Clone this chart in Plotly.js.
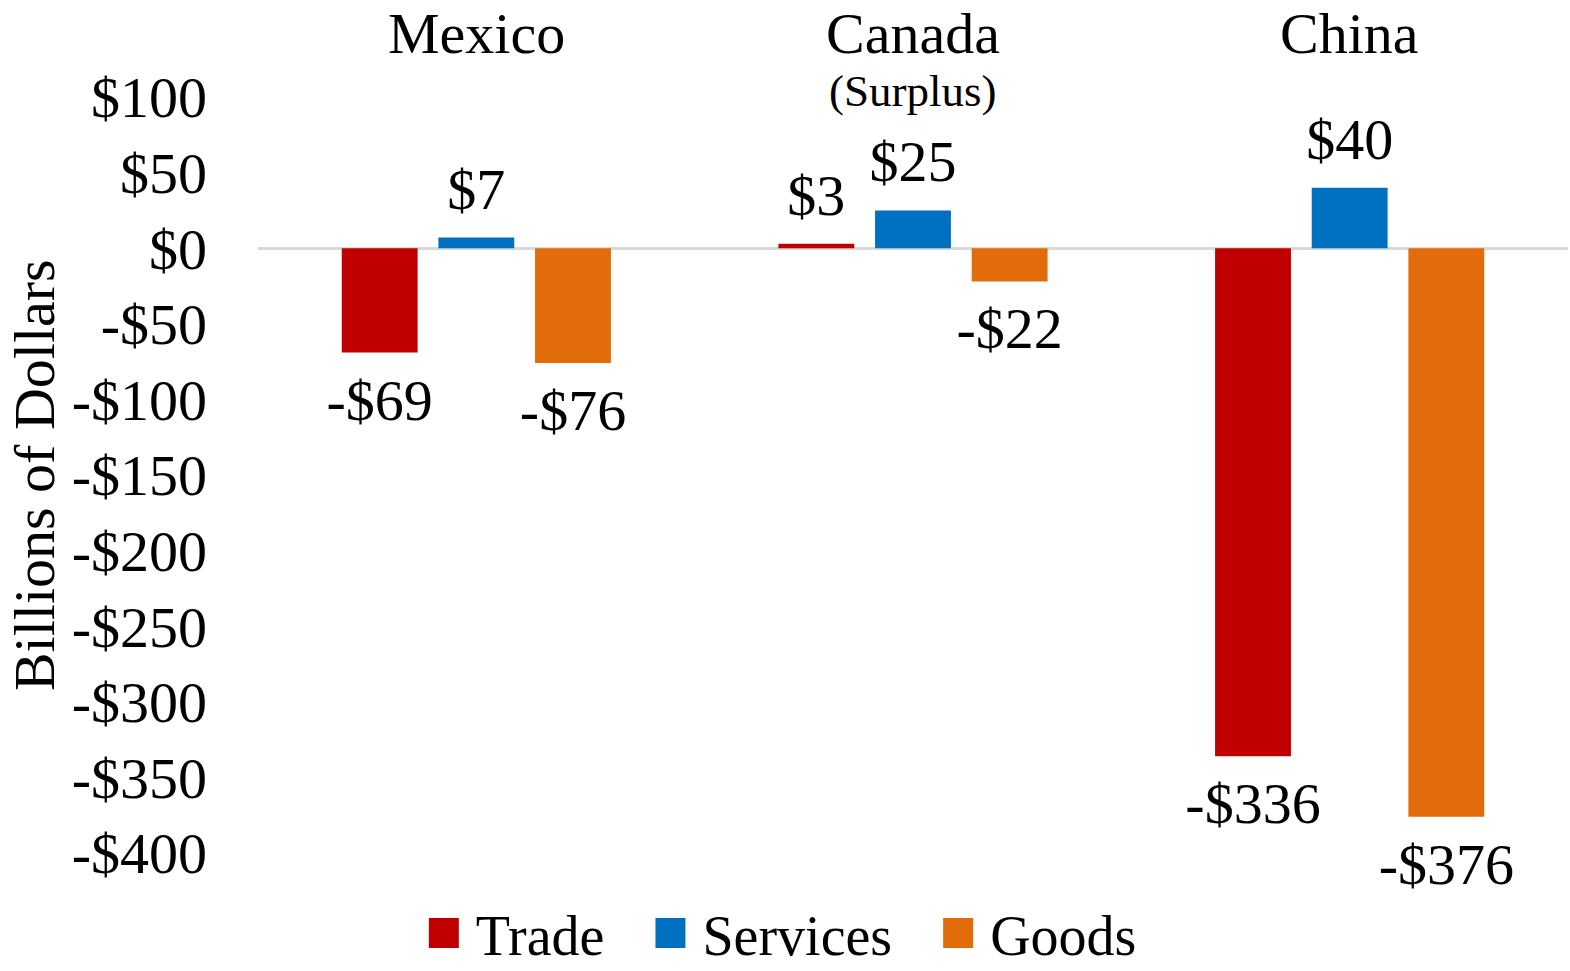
<!DOCTYPE html>
<html>
<head>
<meta charset="utf-8">
<script src="https://cdn.plot.ly/plotly-3.0.1.min.js"></script>
<style>
  html, body { margin: 0; padding: 0; background: #fff; }
  #chart { width: 1570px; height: 971px; }
</style>
</head>
<body>
<div id="chart"></div>
<script>
// countries along the top, with a note under Canada
const countries = ["Mexico", "Canada", "China"];
const notes = ["", "(Surplus)", ""];

// balances, billions of dollars
const trade = [-69, 3, -336];
const services = [7, 25, 40];
const goods = [-76, -22, -376];

const tickVals = [100, 50, 0, -50, -100, -150, -200, -250, -300, -350, -400];
const tickText = ["$100", "$50", "$0", "-$50", "-$100", "-$150", "-$200", "-$250", "-$300", "-$350", "-$400"];

const serif = "Liberation Serif, Times New Roman, serif";

function money(v) {
    return (v < 0 ? "-" : "") + "$" + Math.abs(v);
}

function barTrace(name, values, color) {
    return {
        type: "bar",
        name: name,
        x: countries,
        y: values,
        marker: { color: color },
        text: values.map(money),
        textposition: "outside",
        constraintext: "none",
        cliponaxis: false,
        textfont: { family: serif, size: 58, color: "#000" },
        hoverinfo: "skip"
    };
}

var data = [
    barTrace("Trade", trade, "#C00000"),
    barTrace("Services", services, "#0070C0"),
    barTrace("Goods", goods, "#E36C0A")
];

var annotations = [];
for (let i = 0; i < countries.length; i++) {
    annotations.push({
        x: countries[i], xref: "x",
        y: 1.084, yref: "paper",
        text: countries[i], showarrow: false,
        xanchor: "center", yanchor: "middle",
        font: { family: serif, size: 58, color: "#000" }
    });
    if (notes[i]) {
        annotations.push({
            x: countries[i], xref: "x",
            y: 1.008, yref: "paper",
            text: notes[i], showarrow: false,
            xanchor: "center", yanchor: "middle",
            font: { family: serif, size: 45, color: "#000" }
        });
    }
}

// y axis title, set on its own so it sits at the far left like the original
annotations.push({
    x: -0.1709, xref: "paper",
    y: 0.5, yref: "paper",
    text: "Billions of Dollars", textangle: -90, showarrow: false,
    xanchor: "center", yanchor: "middle",
    font: { family: serif, size: 58, color: "#000" }
});

var layout = {
    width: 1570,
    height: 971,
    margin: { l: 258, r: 2, t: 97, b: 118, autoexpand: false },
    paper_bgcolor: "#fff",
    plot_bgcolor: "#fff",
    font: { family: serif, size: 58, color: "#000" },
    barmode: "group",
    bargap: 0.336,
    bargroupgap: 0.215,
    showlegend: true,
    legend: {
        orientation: "h",
        x: 0.0953, xanchor: "left",
        y: -0.106, yanchor: "middle",
        font: { family: serif, size: 56, color: "#000" },
        itemwidth: 83
    },
    xaxis: {
        showticklabels: false,
        showgrid: false,
        zeroline: false,
        showline: false,
        fixedrange: true
    },
    yaxis: {
        range: [-400, 100],
        tickvals: tickVals,
        ticktext: tickText,
        showgrid: false,
        showline: false,
        zeroline: true,
        zerolinecolor: "#d9d9d9",
        zerolinewidth: 3,
        ticklabelstandoff: 50,
        tickfont: { family: serif, size: 58, color: "#000" },
        fixedrange: true
    },
    annotations: annotations
};

Plotly.newPlot("chart", data, layout, { displayModeBar: false, staticPlot: true }).then(function () {
    // bigger square swatches in the legend, set just left of the text
    document.querySelectorAll(".legend .legendpoints path").forEach(function (p) {
        p.setAttribute("d", "M29.5,15H-0.5V-15H29.5Z");
        p.style.strokeWidth = "0px";
    });
    // value labels sit a little further off the bar ends in the original
    document.querySelectorAll(".barlayer .trace").forEach(function (tr, ti) {
        tr.querySelectorAll(".point").forEach(function (pt, i) {
            var t = pt.querySelector("text");
            if (!t) return;
            var dy = data[ti].y[i] < 0 ? 12 : -13;
            var tf = t.getAttribute("transform") || "";
            t.setAttribute("transform", "translate(0," + dy + ") " + tf);
        });
    });
});
</script>
</body>
</html>
